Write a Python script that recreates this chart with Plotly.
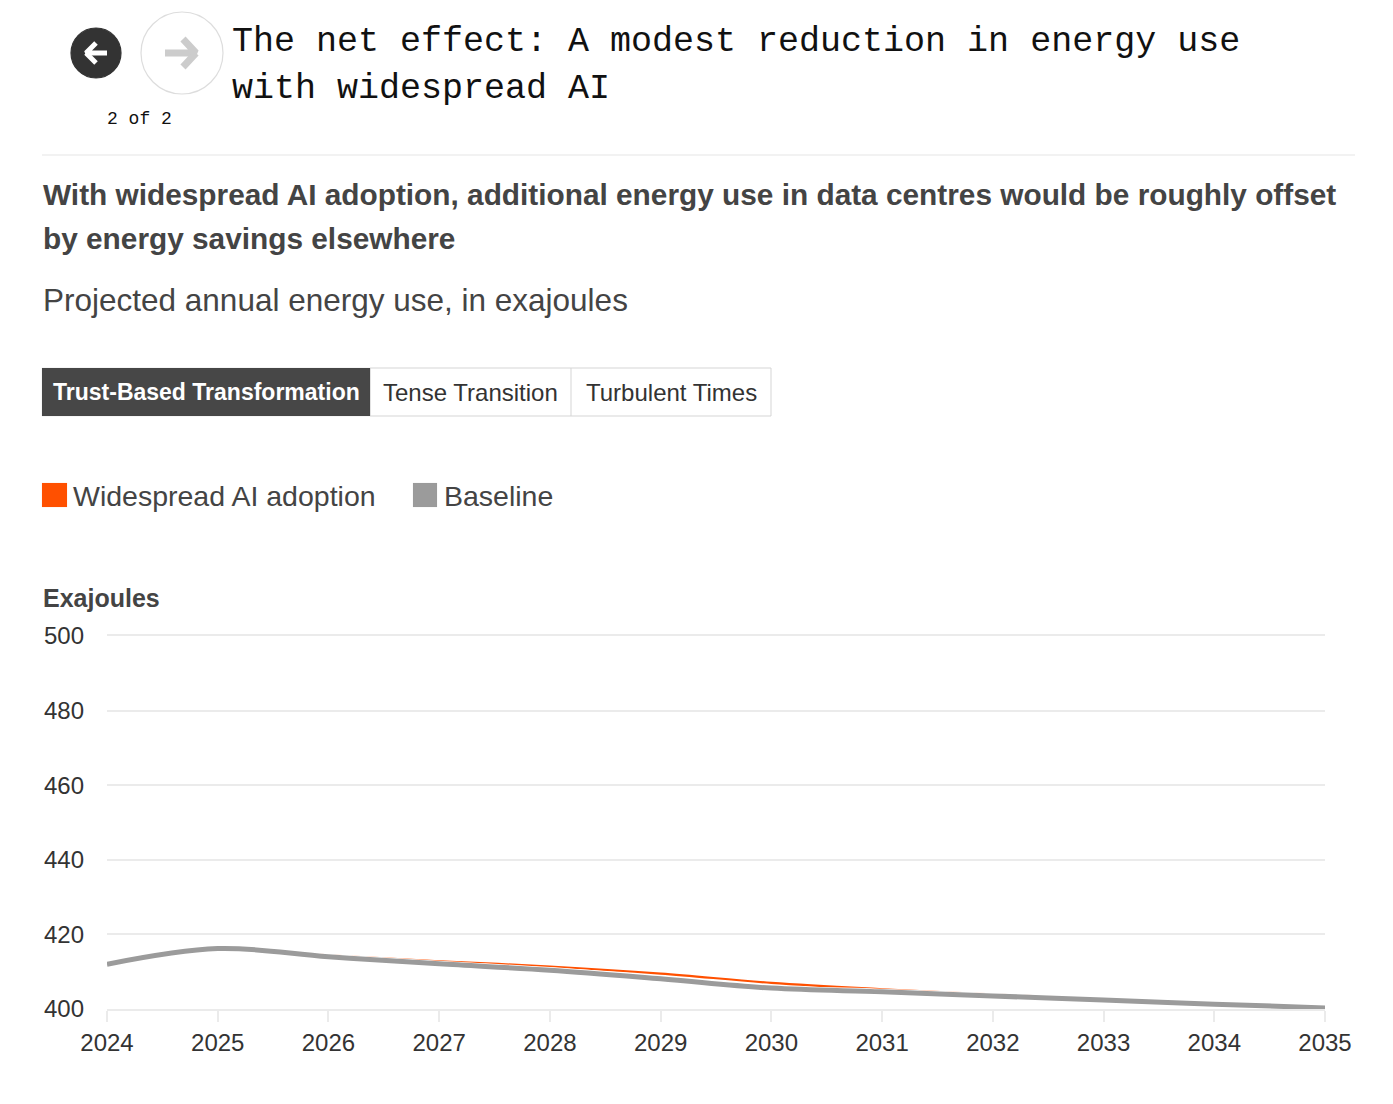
import plotly.graph_objects as go

# data (exajoules)
years = [2024, 2025, 2026, 2027, 2028, 2029, 2030, 2031, 2032, 2033, 2034, 2035]
baseline = [412.0, 416.2, 414.0, 412.1, 410.4, 408.1, 405.6, 404.6, 403.5, 402.4, 401.3, 400.3]
widespread_ai = [412.0, 416.2, 414.4, 412.8, 411.4, 409.5, 407.0, 405.3, 403.9, 402.6, 401.4, 400.3]
y_ticks = [400, 420, 440, 460, 480, 500]

ORANGE = "#FF5000"
GREY = "#9B9B9B"
TEXT = "#444444"
SANS = "Liberation Sans, Arial, sans-serif"
MONO = "Liberation Mono, monospace"

W, H = 1393, 1104
# plot area in page pixels
L, R, T, B = 107, 1325, 636, 1009

fig = go.Figure()

fig.add_trace(go.Scatter(
    x=years, y=widespread_ai, mode="lines", name="Widespread AI adoption",
    line=dict(color=ORANGE, width=2.2, shape="spline"),
    showlegend=False, hoverinfo="x+y",
))
# thin white halo under the baseline, as in the original
fig.add_trace(go.Scatter(
    x=years, y=baseline, mode="lines", line=dict(color="#FFFFFF", width=6.2, shape="spline"),
    showlegend=False, hoverinfo="skip",
))
fig.add_trace(go.Scatter(
    x=years, y=baseline, mode="lines", name="Baseline",
    line=dict(color=GREY, width=5, shape="spline"),
    showlegend=False, hoverinfo="x+y",
))


# page furniture drawn on a second, full-page axis pair in pixel units
def deco(xs, ys, color, fill=None, width=0):
    fig.add_trace(go.Scatter(
        x=xs, y=ys, xaxis="x2", yaxis="y2", mode="lines",
        line=dict(color=color, width=width), fill="toself" if fill else None,
        fillcolor=fill, showlegend=False, hoverinfo="skip",
    ))


def rect(x0, y0, x1, y1, fill, border=None):
    deco([x0, x1, x1, x0, x0], [y0, y0, y1, y1, y0], border or fill, fill, 1 if border else 0.1)


def dot(x, y, size, fill, border):
    fig.add_trace(go.Scatter(
        x=[x], y=[y], xaxis="x2", yaxis="y2", mode="markers",
        marker=dict(size=size, color=fill, line=dict(color=border, width=1.2)),
        showlegend=False, hoverinfo="skip",
    ))


deco([42, 1355], [155, 155], "#EEEEEE", width=1.5)

rect(370, 368, 771, 416, "#FFFFFF", "#D5D5D5")
deco([571, 571], [368, 416], "#D5D5D5", width=1)
rect(42, 368, 370, 416, "#474747")

rect(42, 483, 67, 507, ORANGE)
rect(413, 483, 437, 507, "#9B9B9B")

dot(96, 53, 50, "#333333", "#333333")
dot(182, 53, 82, "#FFFFFF", "#DDDDDD")
deco([107, 86, 96], [53, 53, 43], "#FFFFFF", width=5)
deco([86, 96], [53, 63], "#FFFFFF", width=5)
deco([165, 196, 183], [53, 53, 39], "#CCCCCC", width=7)
deco([196, 183], [53, 67], "#CCCCCC", width=7)

annotations = []


def text(x, y, s, size, color=TEXT, family=SANS, anchor="left"):
    annotations.append(dict(
        x=x, y=y, xref="x2", yref="y2", text=s, showarrow=False,
        xanchor=anchor, yanchor="middle", font=dict(size=size, color=color, family=family),
    ))


text(230, 42, "The net effect: A modest reduction in energy use", 35, "#111111", MONO)
text(230, 89, "with widespread AI", 35, "#111111", MONO)
text(139, 119, "2 of 2", 18, "#111111", MONO, anchor="center")

text(41, 194, "<b>With widespread AI adoption, additional energy use in data centres would be roughly offset</b>", 29.8)
text(41, 238, "<b>by energy savings elsewhere</b>", 29.8)
text(41, 300, "Projected annual energy use, in exajoules", 31.5)

text(206, 392, "<b>Trust-Based Transformation</b>", 23, "#FFFFFF", anchor="center")
text(470, 392, "Tense Transition", 24, "#333333", anchor="center")
text(671, 392, "Turbulent Times", 24, "#333333", anchor="center")

text(71, 496, "Widespread AI adoption", 28.5)
text(442, 496, "Baseline", 28.5)

text(41, 598, "<b>Exajoules</b>", 25)

fig.update_layout(
    width=W, height=H,
    margin=dict(l=0, r=0, t=0, b=0, pad=0, autoexpand=False),
    paper_bgcolor="#FFFFFF", plot_bgcolor="rgba(0,0,0,0)",
    font=dict(family=SANS, color="#333333"),
    annotations=annotations,
    xaxis=dict(
        domain=[L / W, R / W], automargin=False,
        range=[2024, 2035], tickvals=years, ticktext=[str(y) for y in years],
        showgrid=False, zeroline=False, showline=True, mirror=True,
        linecolor="#EBEBEB", linewidth=1.5,
        ticks="outside", ticklen=11, tickcolor="#EBEBEB", tickwidth=1.5,
        tickfont=dict(size=24, color="#333333"), fixedrange=True,
    ),
    yaxis=dict(
        domain=[(H - B) / H, (H - T) / H], automargin=False,
        range=[400, 500], tickvals=y_ticks,
        showgrid=True, gridcolor="#EBEBEB", gridwidth=1.5, zeroline=False,
        showline=False, ticks="", ticklabelstandoff=22,
        tickfont=dict(size=24, color="#333333"), fixedrange=True,
    ),
    xaxis2=dict(domain=[0, 1], range=[0, W], visible=False, fixedrange=True,
                automargin=False, anchor="y2"),
    yaxis2=dict(domain=[0, 1], range=[H, 0], visible=False, fixedrange=True,
                automargin=False, anchor="x2"),
    hovermode="closest",
)

fig.write_html("out.html", post_script="document.body.style.margin='0';",
               config={"displayModeBar": False})
